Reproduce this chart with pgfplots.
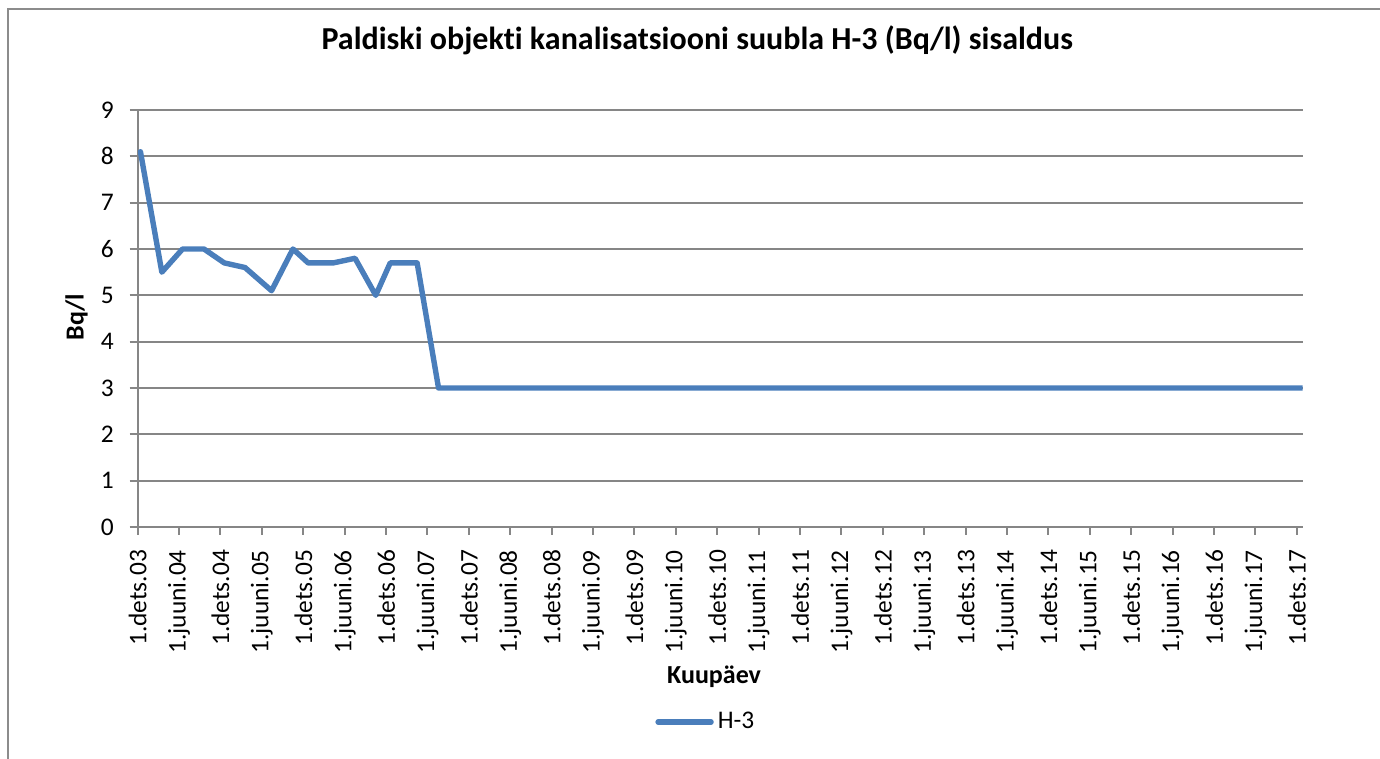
\documentclass[border=0pt]{standalone}
\usepackage{pgfplots}
\pgfplotsset{compat=1.18}
\usepackage{fontspec}
\setmainfont{Carlito}[Ligatures=NoCommon]
\definecolor{gridgray}{HTML}{868686}
\definecolor{framegray}{HTML}{8C8C8C}
\definecolor{lineblue}{HTML}{4A7EBB}
\begin{document}
\begin{tikzpicture}[x=1pt,y=1pt]
\path[use as bounding box] (0,0) rectangle (690,379.5);
\draw[framegray, line width=1pt] (690,375) -- (4,375) -- (4,0);
\begin{axis}[
  at={(68.85pt,116pt)}, anchor=south west,
  width=582.5pt, height=208.5pt, scale only axis,
  xmin=0, xmax=168.85, ymin=0, ymax=9,
  axis x line*=bottom, axis y line*=left,
  axis line style={gridgray, line width=1pt},
  ymajorgrids, grid style={gridgray, line width=1pt},
  tick align=outside, major tick length=4pt,
  tick style={gridgray, line width=1pt},
  xtick={0,6,...,168},
  xticklabels={1.dets.03,1.juuni.04,1.dets.04,1.juuni.05,1.dets.05,1.juuni.06,1.dets.06,1.juuni.07,1.dets.07,1.juuni.08,1.dets.08,1.juuni.09,1.dets.09,1.juuni.10,1.dets.10,1.juuni.11,1.dets.11,1.juuni.12,1.dets.12,1.juuni.13,1.dets.13,1.juuni.14,1.dets.14,1.juuni.15,1.dets.15,1.juuni.16,1.dets.16,1.juuni.17,1.dets.17},
  ytick={0,1,...,9},
  /pgf/number format/assume math mode=true,
  xticklabel shift=4pt,
  yticklabel shift=4.5pt,
  xticklabel style={rotate=90, anchor=east, font=\fontsize{12.7}{12.7}\selectfont},
  yticklabel style={font=\fontsize{12.7}{12.7}\selectfont},
  title={Paldiski objekti kanalisatsiooni suubla H-3 (Bq/l) sisaldus},
  title style={font=\fontsize{16}{16}\selectfont\bfseries, at={(rel axis cs:0.4802,1.139)}, anchor=center},
  xlabel={Kuupäev},
  xlabel style={font=\fontsize{13}{13}\selectfont\bfseries, at={(rel axis cs:0.4947,-0.359)}, anchor=center},
  ylabel={Bq/l},
  ylabel style={font=\fontsize{13}{13}\selectfont\bfseries, at={(rel axis cs:-0.0525,0.5036)}, anchor=center, rotate=0},
  legend style={draw=none, fill=none, at={(rel axis cs:0.444,-0.4676)}, anchor=west, inner sep=0pt, font=\fontsize{12.7}{12.7}\selectfont},
  legend image code/.code={\draw[#1, line cap=round] (0pt,0pt) -- (26.5pt,0pt);},
]
\addplot[lineblue, line width=2.7pt, line join=round, line cap=round] coordinates {
  (0.4,8.1) (3.5,5.5) (6.5,6.0) (9.6,6.0) (12.55,5.7) (15.55,5.6) (19.4,5.1)
  (22.5,6.0) (24.7,5.7) (28.35,5.7) (31.5,5.8) (34.5,5.0) (36.6,5.7) (40.5,5.7)
  (43.6,3.0) (168.85,3.0)
};
\addlegendentry{H-3}
\end{axis}
\end{tikzpicture}
\end{document}
